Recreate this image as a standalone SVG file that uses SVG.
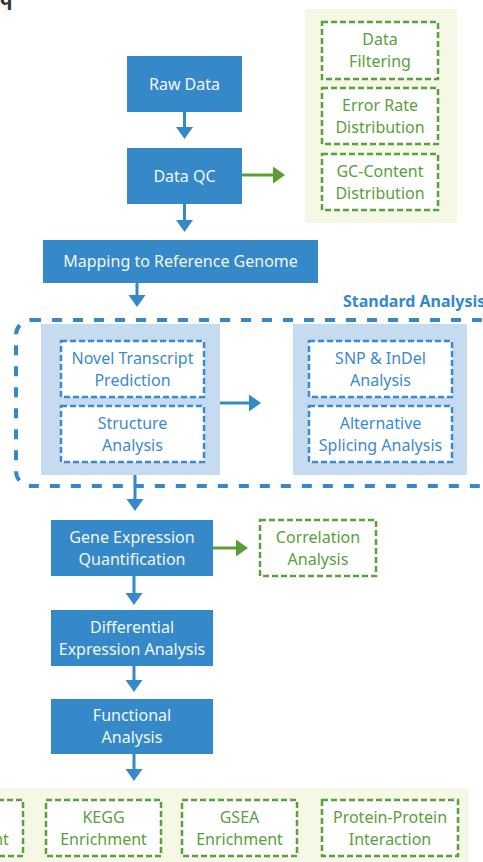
<svg xmlns="http://www.w3.org/2000/svg" width="483" height="862" viewBox="0 0 483 862">
<style>
text{font-family:"Noto Sans","Open Sans","DejaVu Sans",sans-serif;font-size:16px;text-anchor:middle}
.bb{fill:#3589c9}
.wt{fill:#f3f6fa}
.gt{fill:#5aa03c}
.bt{fill:#3a8ad0}
.gd{fill:#fff;stroke:#5aa03c;stroke-width:2.5;stroke-dasharray:6 3}
.bd{fill:#fff;stroke:#3a8ad0;stroke-width:2.5;stroke-dasharray:6 3}
.lg{fill:#f5f8e5}
.lb{fill:#c6daf0}
.cb{stroke:#3589c9;stroke-width:3;fill:none;marker-end:url(#ab)}
.cg{stroke:#5a9e35;stroke-width:3;fill:none;marker-end:url(#ag)}
</style>
<defs>
<marker id="ab" markerUnits="userSpaceOnUse" markerWidth="12" markerHeight="18" refX="1" refY="9" orient="auto"><path d="M0,0.5 L12,9 L0,17.5 Z" fill="#3589c9"/></marker>
<marker id="ag" markerUnits="userSpaceOnUse" markerWidth="12" markerHeight="18" refX="1" refY="9" orient="auto"><path d="M0,0.5 L12,9 L0,17.5 Z" fill="#5a9e35"/></marker>
</defs>
<rect width="483" height="862" fill="#fff"/>
<text x="6" y="5" style="font-size:20px;font-weight:bold;fill:#333">q</text>

<g id="qc-panel">
<rect class="lg" x="305" y="9" width="152" height="214"/>
<g id="data-filtering"><rect class="gd" x="322" y="22" width="116" height="57"/><text class="gt" x="380" y="45">Data</text><text class="gt" x="380" y="67">Filtering</text></g>
<g id="error-rate"><rect class="gd" x="322" y="88" width="116" height="56"/><text class="gt" x="380" y="110.5">Error Rate</text><text class="gt" x="380" y="132.5">Distribution</text></g>
<g id="gc-content"><rect class="gd" x="322" y="154" width="116" height="56"/><text class="gt" x="380" y="176.5">GC-Content</text><text class="gt" x="380" y="198.5">Distribution</text></g>
</g>

<g id="raw-data"><rect class="bb" x="127" y="56" width="115" height="56"/><text class="wt" x="184.5" y="89.5">Raw Data</text></g>
<g id="data-qc"><rect class="bb" x="127" y="148" width="115" height="56"/><text class="wt" x="184.5" y="181.5">Data QC</text></g>
<g id="mapping"><rect class="bb" x="43" y="240" width="275" height="43"/><text class="wt" x="180.5" y="267">Mapping to Reference Genome</text></g>

<g id="standard-analysis">
<text x="343" y="307" style="text-anchor:start;font-weight:bold;fill:#3589c9">Standard Analysis</text>
<rect x="16" y="320" width="478" height="166" rx="15" fill="none" stroke="#3589c9" stroke-width="4" stroke-dasharray="10 11"/>
<rect class="lb" x="41" y="324" width="179" height="151"/>
<rect class="lb" x="293" y="324" width="174" height="151"/>
<g id="novel-transcript"><rect class="bd" x="61" y="341" width="143" height="56"/><text class="bt" x="132.5" y="363.5">Novel Transcript</text><text class="bt" x="132.5" y="385.5">Prediction</text></g>
<g id="structure"><rect class="bd" x="61" y="406" width="143" height="56"/><text class="bt" x="132.5" y="428.5">Structure</text><text class="bt" x="132.5" y="450.5">Analysis</text></g>
<g id="snp-indel"><rect class="bd" x="309" y="341" width="143" height="56"/><text class="bt" x="380.5" y="363.5">SNP &amp; InDel</text><text class="bt" x="380.5" y="385.5">Analysis</text></g>
<g id="alt-splicing"><rect class="bd" x="309" y="406" width="143" height="56"/><text class="bt" x="380.5" y="428.5">Alternative</text><text class="bt" x="380.5" y="450.5">Splicing Analysis</text></g>
</g>

<g id="gene-expression"><rect class="bb" x="51" y="520" width="162" height="56"/><text class="wt" x="132" y="542.5">Gene Expression</text><text class="wt" x="132" y="564.5">Quantification</text></g>
<g id="correlation"><rect class="gd" x="260" y="520" width="116" height="56"/><text class="gt" x="318" y="542.5">Correlation</text><text class="gt" x="318" y="564.5">Analysis</text></g>
<g id="differential"><rect class="bb" x="51" y="610" width="162" height="56"/><text class="wt" x="132" y="632.5">Differential</text><text class="wt" x="132" y="654.5">Expression Analysis</text></g>
<g id="functional"><rect class="bb" x="51" y="699" width="162" height="55"/><text class="wt" x="132" y="721">Functional</text><text class="wt" x="132" y="743">Analysis</text></g>

<g id="enrichment-panel">
<rect class="lg" x="-10" y="788" width="479" height="80"/>
<g id="go"><rect class="gd" x="-92" y="800" width="115" height="56"/><text class="gt" x="-34.5" y="822.5">GO</text><text class="gt" x="-34.5" y="844.5">Enrichment</text></g>
<g id="kegg"><rect class="gd" x="46" y="800" width="115" height="56"/><text class="gt" x="103.5" y="822.5">KEGG</text><text class="gt" x="103.5" y="844.5">Enrichment</text></g>
<g id="gsea"><rect class="gd" x="182" y="800" width="115" height="56"/><text class="gt" x="239.5" y="822.5">GSEA</text><text class="gt" x="239.5" y="844.5">Enrichment</text></g>
<g id="ppi"><rect class="gd" x="322" y="800" width="136" height="56"/><text class="gt" x="390" y="822.5">Protein-Protein</text><text class="gt" x="390" y="844.5">Interaction</text></g>
</g>

<g id="connectors">
<line class="cb" x1="184.5" y1="112" x2="184.5" y2="128"/>
<line class="cb" x1="184.5" y1="204" x2="184.5" y2="221"/>
<line class="cb" x1="137" y1="283" x2="137" y2="296"/>
<line class="cb" x1="220" y1="403" x2="250" y2="403"/>
<line class="cb" x1="135" y1="475" x2="135" y2="500"/>
<line class="cb" x1="134" y1="576" x2="134" y2="594"/>
<line class="cb" x1="134" y1="666" x2="134" y2="681"/>
<line class="cb" x1="134" y1="754" x2="134" y2="770"/>
<line class="cg" x1="242" y1="175" x2="274" y2="175"/>
<line class="cg" x1="213" y1="548" x2="237" y2="548"/>
</g>
</svg>
